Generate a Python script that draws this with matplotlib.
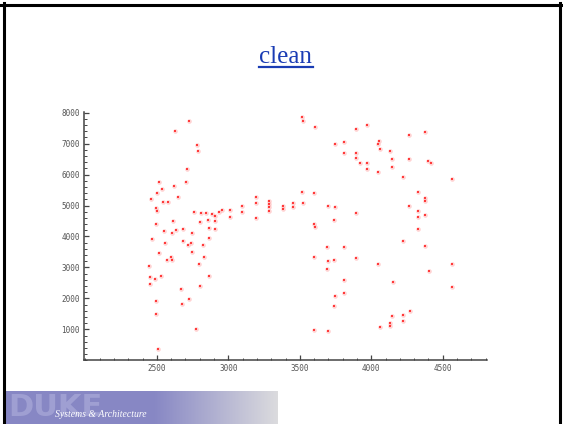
import numpy as np
import matplotlib
matplotlib.use("Agg")
import matplotlib.pyplot as plt
from matplotlib.lines import Line2D

# ---- data ----
x_vals = [2725, 2625, 2780, 2787, 2710, 2703, 2514, 2535, 2620, 2500,
          2458, 2647, 2542, 2577, 2493, 2500, 2759, 2808, 2843, 2885,
          2906, 2934, 2955, 3010, 3010, 3094, 3094, 2906, 2857, 2801,
          2612, 2493, 2549, 2633, 2682, 2605, 2745, 2864, 2906, 2465,
          2556, 2682, 2717, 2738, 2864, 2822, 2745, 2514, 2598, 2570,
          2605, 2829, 2444, 2794, 2451, 2486, 2528, 2864, 2451, 2668,
          2801, 2493, 2675, 2724, 2493, 2773, 2507,
          3192, 3192, 3192, 3283, 3283, 3283, 3283, 3381, 3381, 3451,
          3451, 3521, 3514, 3598, 3696, 3745, 3892, 3738, 3598, 3605,
          3514, 3521, 3605, 3892, 3969, 3745, 3808, 3808, 3892, 3892,
          3920, 3969, 3969, 4052, 4045, 4059, 4129, 4143, 4143, 4045,
          4220, 4262, 4374, 4262, 4395, 4416, 4563,
          4325, 4374, 4374, 4262, 4325, 4374, 4325, 4325, 4220, 4374,
          3689, 3808, 3598, 3696, 3738, 3892, 3689, 3808, 3808, 3745,
          3738, 3598, 3696,
          4045, 4150, 4402, 4563, 4563, 4269, 4220, 4220, 4143, 4129,
          4129, 4059]
y_vals = [7730, 7410, 6960, 6760, 6180, 5760, 5760, 5535, 5630, 5405,
          5210, 5275, 5115, 5115, 4921, 4824, 4792, 4759, 4759, 4727,
          4662, 4792, 4856, 4856, 4630, 4985, 4792, 4501, 4533, 4468,
          4501, 4404, 4178, 4210, 4242, 4113, 4113, 4275, 4242, 3919,
          3790, 3855, 3725, 3790, 3952, 3725, 3499, 3467, 3338, 3241,
          3241, 3338, 3047, 3111, 2691, 2627, 2724, 2724, 2465, 2304,
          2401, 1916, 1819, 1981, 1496, 1011, 365,
          5276, 5082, 4598, 5147, 5050, 4953, 4824, 4985, 4889, 5082,
          4953, 5082, 5438, 5405, 4985, 4953, 4760, 4533, 4404, 4307,
          7861, 7732, 7538, 7474, 7603, 6989, 7054, 6698, 6698, 6537,
          6375, 6375, 6181, 7086, 6989, 6827, 6762, 6504, 6246, 6084,
          5922, 7280, 7377, 6504, 6440, 6375, 5858,
          5438, 5244, 5147, 4985, 4824, 4695, 4630, 4242, 3855, 3693,
          3661, 3661, 3338, 3208, 3241, 3305, 2950, 2594, 2174, 2077,
          1754, 979, 947,
          3111, 2530, 2885, 3111, 2368, 1593, 1464, 1270, 1431, 1205,
          1108, 1076]
x_ticks = [2500, 3000, 3500, 4000, 4500]
y_ticks = [1000, 2000, 3000, 4000, 5000, 6000, 7000, 8000]
title_text = "clean"
banner_big = "DUKE"
banner_small = "Systems & Architecture"

W, H = 563, 424
fig = plt.figure(figsize=(W / 100, H / 100), dpi=100)
fig.patch.set_facecolor("white")

# ---- scatter axes ----
ax = fig.add_axes([84 / W, (H - 360.3) / H, (487 - 84) / W, (360.3 - 111.7) / H])
ax.set_xlim(1990, 4810)
ax.set_ylim(0, 8030)
ax.scatter(x_vals, y_vals, s=11, c="#ff8080", alpha=0.35, marker="o", linewidths=0)
ax.scatter(x_vals, y_vals, s=4, c="#ff2020", alpha=0.85, marker="s", linewidths=0)
for s in ["top", "right"]:
    ax.spines[s].set_visible(False)
for s in ["left", "bottom"]:
    ax.spines[s].set_color("#444444")
    ax.spines[s].set_linewidth(1.1)
ax.set_xticks(x_ticks)
ax.set_xticklabels([str(v) for v in x_ticks])
ax.set_yticks(y_ticks)
ax.set_yticklabels([str(v) for v in y_ticks])
ax.set_xticks(np.arange(2000, 4801, 100), minor=True)
ax.set_yticks(np.arange(0, 8001, 200), minor=True)
ax.tick_params(which="major", direction="in", length=3.5, width=0.9,
               color="#444444", labelsize=5.5, labelcolor="#555555", pad=3)
ax.tick_params(which="minor", direction="in", length=1.8, width=0.7, color="#444444")
for lab in ax.get_xticklabels() + ax.get_yticklabels():
    lab.set_family("DejaVu Sans Mono")
ax.set_facecolor("none")

# ---- title ----
t = fig.text(285 / W, (H - 57) / H, title_text, ha="center", va="center",
             fontsize=18, family="Liberation Serif", color="#1a3cb4")
fig.canvas.draw()
bb = t.get_window_extent()
uy = bb.y0 + 1.5
fig.add_artist(Line2D([bb.x0 / W, (bb.x1 + 2) / W], [uy / H, uy / H],
                      transform=fig.transFigure, color="#1a3cb4", linewidth=1.6))

# ---- banner ----
bax = fig.add_axes([3 / W, 0, (278 - 3) / W, 33 / H])
n = 300
pos = np.linspace(0, 1, n)
c0 = np.array([0.53, 0.53, 0.77])
c1 = np.array([0.86, 0.86, 0.87])
frac = np.clip((pos - 0.55) / 0.45, 0, 1)[:, None]
grad = (c0 * (1 - frac) + c1 * frac)[None, :, :]
bax.imshow(np.repeat(grad, 10, axis=0), aspect="auto", extent=[0, 1, 0, 1])
bax.set_xlim(0, 1)
bax.set_ylim(0, 1)
bax.axis("off")
bax.text(0.02, 0.5, banner_big, fontsize=22, color="#a6a6d6", alpha=0.8,
         family="DejaVu Sans", fontweight="bold", va="center", ha="left",
         clip_on=True)
bax.text(0.19, 0.3, banner_small, fontsize=7, color="white", style="italic",
         family="Liberation Serif", va="center", ha="left", zorder=5)

# ---- slide border ----
lw = 2.2
fig.add_artist(Line2D([0, 1], [1 - 4.5 / H, 1 - 4.5 / H], transform=fig.transFigure,
                      color="black", linewidth=lw))
fig.add_artist(Line2D([3.5 / W, 3.5 / W], [0, 1 - 3 / H], transform=fig.transFigure,
                      color="black", linewidth=lw))
fig.add_artist(Line2D([559.5 / W, 559.5 / W], [0, 1 - 3 / H], transform=fig.transFigure,
                      color="black", linewidth=lw))

fig.savefig("out.png", dpi=100)
